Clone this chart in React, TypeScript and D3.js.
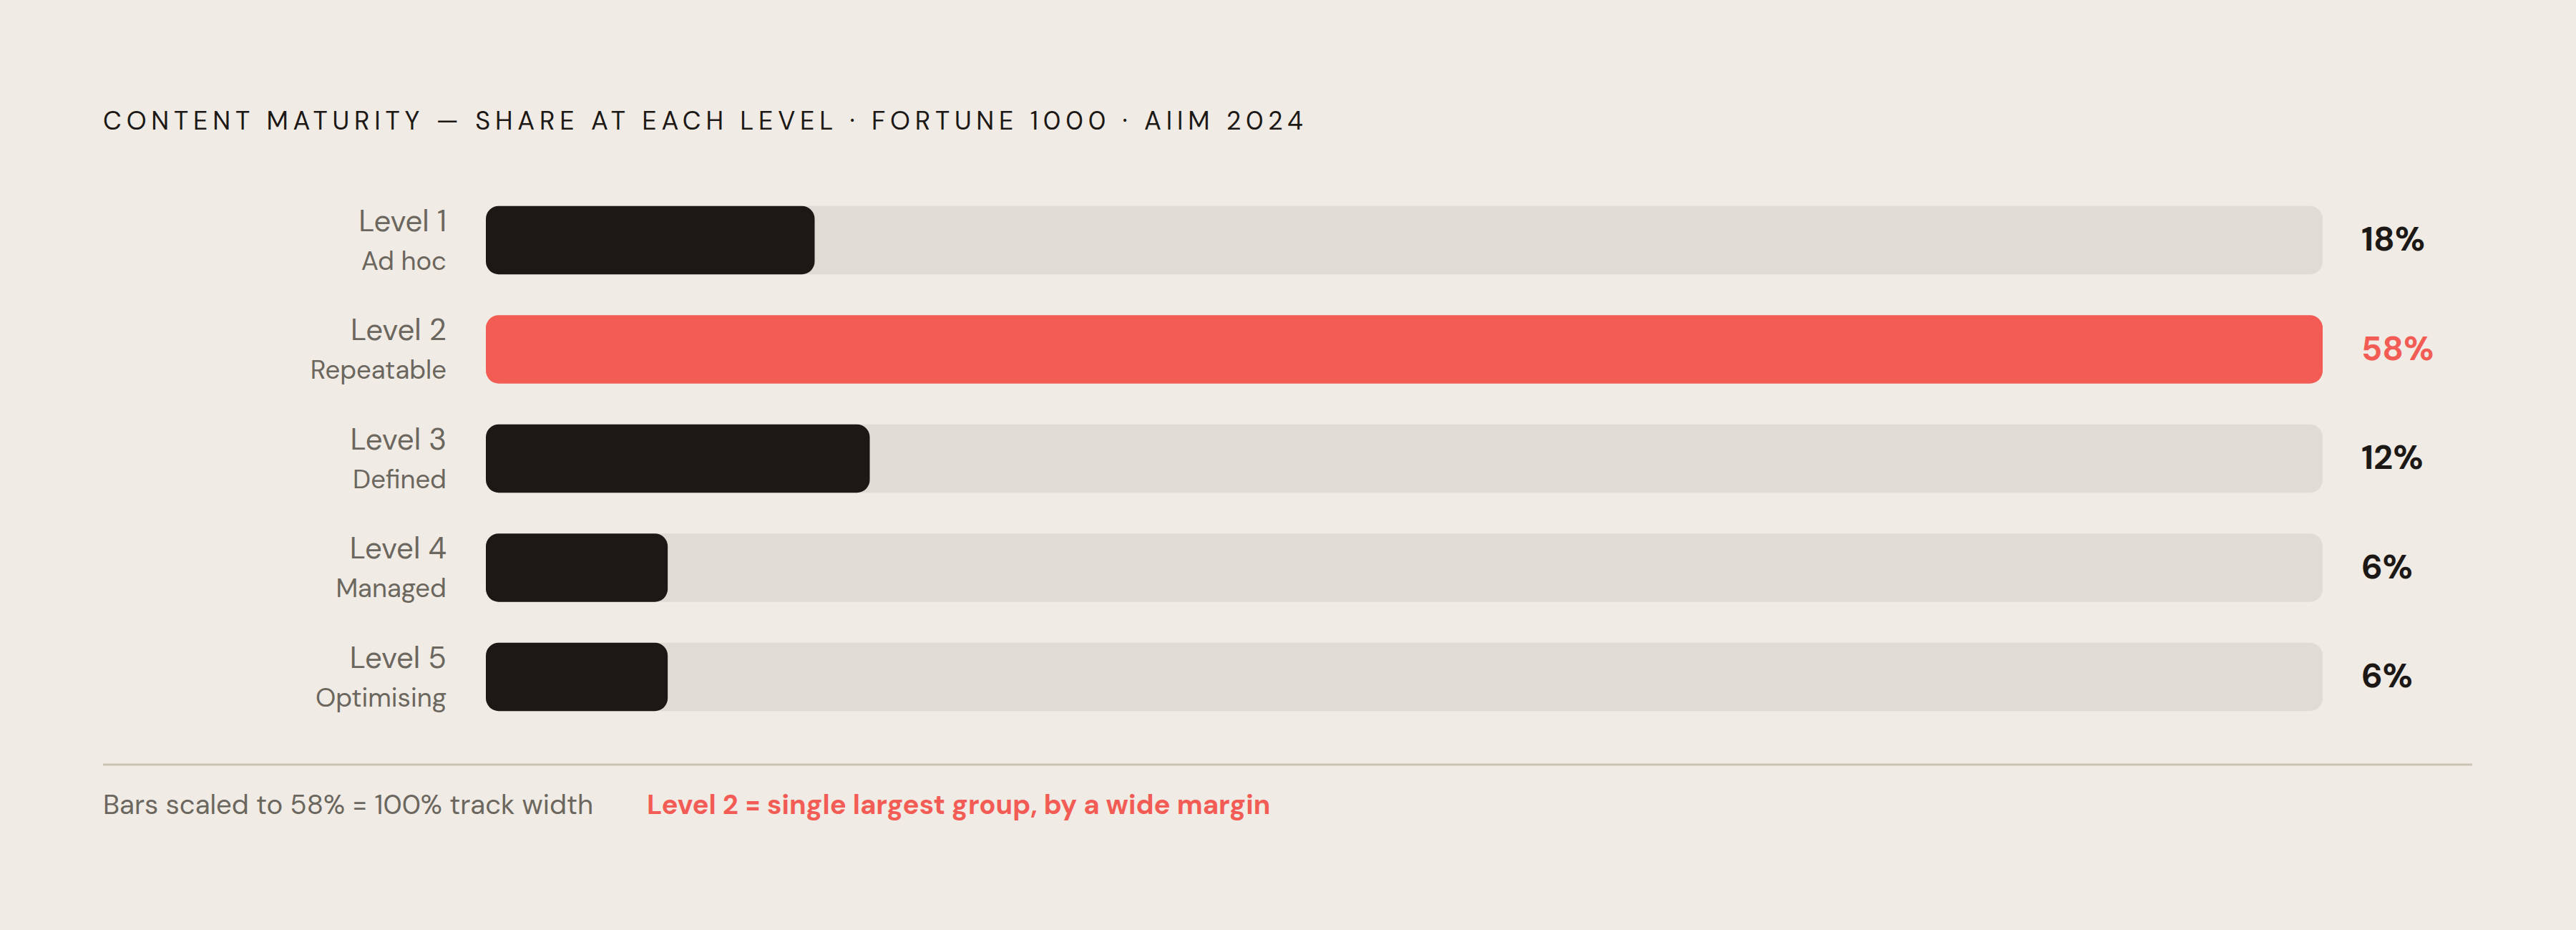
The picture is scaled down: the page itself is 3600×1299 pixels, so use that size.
import { useEffect, useRef } from 'react';
import * as d3 from 'd3';

const levels = ['Level 1', 'Level 2', 'Level 3', 'Level 4', 'Level 5'];
const stages = ['Ad hoc', 'Repeatable', 'Defined', 'Managed', 'Optimising'];
const shares = [18, 58, 12, 6, 6];
// filled part of each track, in % of track width, as drawn
const fills = [17.9, 100, 20.9, 9.9, 9.9];
const highlight = 'Level 2';

const title = 'CONTENT MATURITY — SHARE AT EACH LEVEL · FORTUNE 1000 · AIIM 2024';
const noteLeft = 'Bars scaled to 58% = 100% track width';
const noteRight = 'Level 2 = single largest group, by a wide margin';

const W = 3600;
const H = 1299;
const FONT = "'DM Sans', Inter, 'Noto Sans', sans-serif";

export default function App() {
  const svgRef = useRef<SVGSVGElement>(null);

  useEffect(() => {
    if (!svgRef.current) return;
    const svg = d3.select(svgRef.current);
    svg.selectAll('*').remove();

    const bg = '#f0ebe4';
    const track = '#e0dcd5';
    const ink = '#1c1815';
    const red = '#f25c55';
    const grey = '#6b665e';

    svg.append('rect').attr('width', W).attr('height', H).attr('fill', bg);

    const x0 = 679;
    const x1 = 3246;

    const x = d3.scaleLinear().domain([0, 100]).range([x0, x1]);
    const y = d3.scaleBand<string>()
      .domain(levels)
      .range([287.7, 993.2])
      .paddingInner(0.374)
      .paddingOuter(0);

    // Title
    svg.append('text')
      .attr('x', 144)
      .attr('y', 181)
      .attr('font-family', FONT)
      .attr('font-size', 36)
      .attr('font-weight', 400)
      .attr('letter-spacing', '0.19em')
      .attr('fill', ink)
      .text(title);

    const rows = svg.append('g')
      .selectAll('g')
      .data(levels.map((l, i) => ({ level: l, stage: stages[i], share: shares[i], fill: fills[i] })))
      .join('g');

    rows.append('rect')
      .attr('x', x(0))
      .attr('y', d => y(d.level)!)
      .attr('width', x(100) - x(0))
      .attr('height', y.bandwidth())
      .attr('rx', 18)
      .attr('fill', track);

    rows.append('rect')
      .attr('x', x(0))
      .attr('y', d => y(d.level)!)
      .attr('width', d => x(d.fill) - x(0))
      .attr('height', y.bandwidth())
      .attr('rx', 18)
      .attr('fill', d => (d.level === highlight ? red : ink));

    rows.append('text')
      .attr('x', 624)
      .attr('y', d => y(d.level)! + 35)
      .attr('text-anchor', 'end')
      .attr('font-family', FONT)
      .attr('font-size', 42)
      .attr('fill', grey)
      .text(d => d.level);

    rows.append('text')
      .attr('x', 624)
      .attr('y', d => y(d.level)! + 89)
      .attr('text-anchor', 'end')
      .attr('font-family', FONT)
      .attr('font-size', 36.5)
      .attr('fill', grey)
      .text(d => d.stage);

    rows.append('text')
      .attr('x', 3300)
      .attr('y', d => y(d.level)! + y.bandwidth() / 2 + 15)
      .attr('font-family', FONT)
      .attr('font-size', 47)
      .attr('font-weight', 700)
      .attr('fill', d => (d.level === highlight ? red : ink))
      .text(d => `${d.share}%`);

    // Footer rule
    svg.append('line')
      .attr('x1', 144)
      .attr('x2', 3455)
      .attr('y1', 1068)
      .attr('y2', 1068)
      .attr('stroke', '#cbc4b5')
      .attr('stroke-width', 3);

    svg.append('text')
      .attr('x', 144)
      .attr('y', 1137)
      .attr('font-family', FONT)
      .attr('font-size', 38.3)
      .attr('fill', grey)
      .text(noteLeft);

    svg.append('text')
      .attr('x', 904)
      .attr('y', 1137)
      .attr('font-family', FONT)
      .attr('font-size', 38.3)
      .attr('font-weight', 700)
      .attr('fill', red)
      .text(noteRight);
  }, []);

  return (
    <svg
      ref={svgRef}
      width={W}
      height={H}
      style={{ position: 'absolute', left: 0, top: 0, display: 'block' }}
    />
  );
}
